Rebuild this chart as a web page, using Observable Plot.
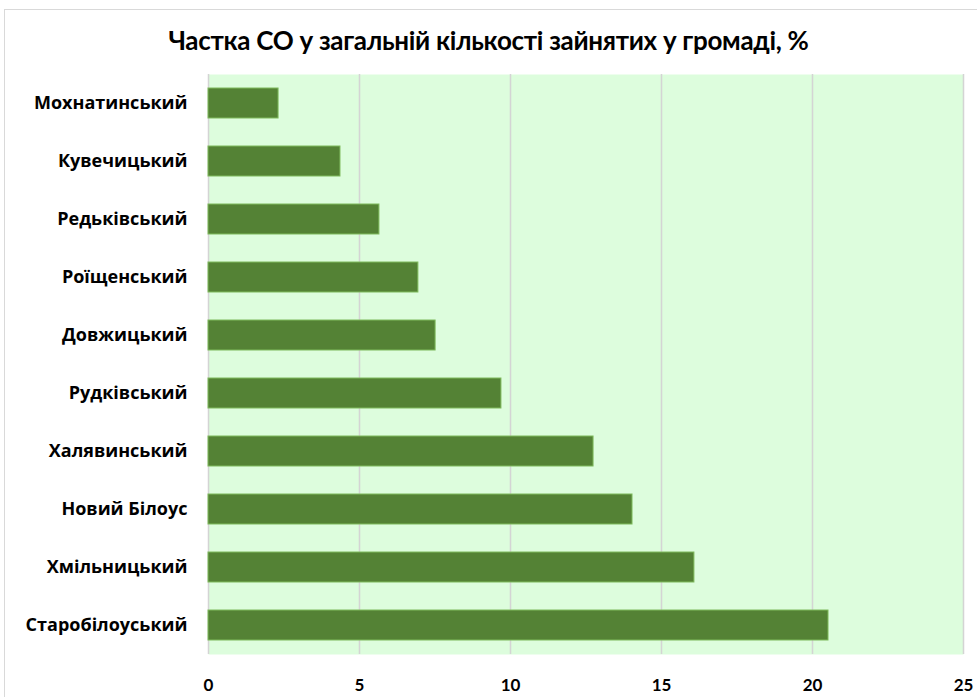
<!DOCTYPE html>
<html><head><meta charset="utf-8">
<script src="https://cdn.jsdelivr.net/npm/d3@7"></script>
<script src="https://cdn.jsdelivr.net/npm/@observablehq/plot@0.6"></script>
<style>
html,body{margin:0;padding:0;background:#fff;}
#frame{position:absolute;left:4px;top:9px;width:1000px;height:720px;border:1px solid #d9d9d9;box-sizing:border-box;}
#wrap{position:absolute;left:0;top:0;width:977px;}
#title{height:60px;line-height:81px;text-align:center;font-family:Lato,sans-serif;font-weight:bold;font-size:26px;color:#000;letter-spacing:-0.3px;}
svg{display:block;}
</style></head>
<body>
<div id="frame"></div>
<div id="wrap"><div id="title">Частка СО у загальній кількості зайнятих у громаді, %</div><div id="chart"></div></div>
<script>
const categories = ["Мохнатинський","Кувечицький","Редьківський","Роїщенський","Довжицький","Рудківський","Халявинський","Новий Білоус","Хмільницький","Старобілоуський"];
const values = [2.32, 4.37, 5.66, 6.95, 7.52, 9.70, 12.75, 14.04, 16.09, 20.53];
const xTicks = [0,5,10,15,20,25];
const data = categories.map((c,i)=>({cat:c, v:values[i]}));
const chart = Plot.plot({
  width: 977, height: 637,
  marginLeft: 208, marginRight: 14, marginTop: 14, marginBottom: 43,
  style: {fontFamily: "'Open Sans', sans-serif", fontWeight: "bold", color: "#000", background: "transparent"},
  x: {domain: [0,25], ticks: xTicks, label: null, tickSize: 0, tickPadding: 24},
  y: {domain: categories, label: null, tickSize: 0, tickPadding: 21, paddingInner: 0.48, paddingOuter: 0.24},
  marks: [
    Plot.frame({fill: "#ddfddd", stroke: null}),
    Plot.gridX(xTicks, {stroke: "#d4d4d4", strokeOpacity: 1, strokeWidth: 1.5}),
    Plot.barX(data, {x: "v", y: "cat", fill: "#548235", stroke: "#7fba5c", strokeWidth: 1}),
    Plot.axisX({ticks: xTicks, tickSize: 0, tickPadding: 24, fontSize: 17, fontWeight: "bold", fontFamily: "Lato, sans-serif"}),
    Plot.axisY({tickSize: 0, tickPadding: 21, fontSize: 18, fontWeight: "bold"})
  ]
});
document.getElementById("chart").appendChild(chart);
</script>
</body></html>
